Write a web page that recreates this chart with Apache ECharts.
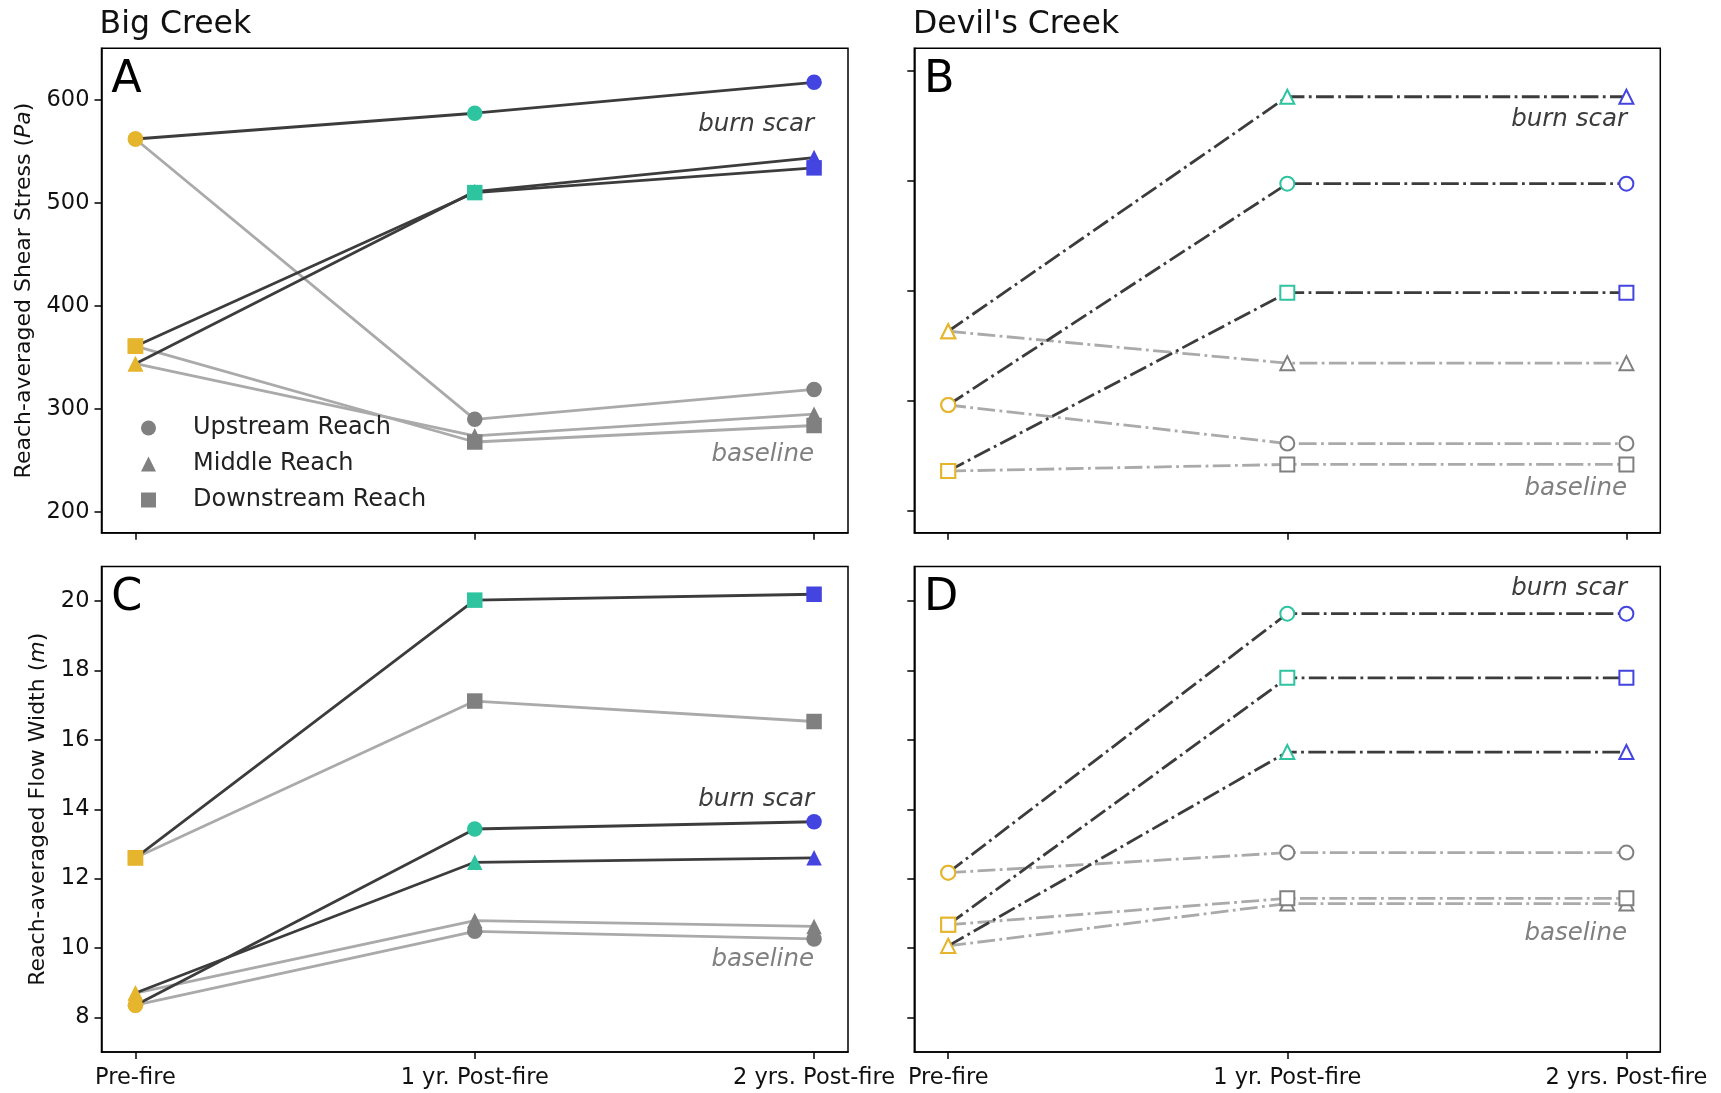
<!DOCTYPE html>
<html>
<head>
<meta charset="utf-8">
<script src="https://cdn.jsdelivr.net/npm/echarts@6/dist/echarts.min.js"></script>
<style>
  html, body { margin: 0; padding: 0; background: #fff; }
  #chart { width: 1721px; height: 1093px; }
</style>
</head>
<body>
<div id="chart"></div>
<script>
// ---------------- DATA ----------------
const categories = ['Pre-fire', '1 yr. Post-fire', '2 yrs. Post-fire'];
const shearTicks = [200, 300, 400, 500, 600];
const widthTicks = [8, 10, 12, 14, 16, 18, 20];
const reachNames = ['Upstream Reach', 'Middle Reach', 'Downstream Reach'];

// Big Creek: reach-averaged shear stress (Pa)
const bigShearBurnUp   = [562, 587, 617];
const bigShearBurnMid  = [344, 511, 544];
const bigShearBurnDown = [361, 510, 534];
const bigShearBaseUp   = [562, 290, 319];
const bigShearBaseMid  = [344, 274, 295];
const bigShearBaseDown = [361, 268, 284];

// Devil's Creek: reach-averaged shear stress (Pa)
const devShearBurnUp   = [296, 497, 497];
const devShearBurnMid  = [363, 576, 576];
const devShearBurnDown = [236, 398, 398];
const devShearBaseUp   = [296, 261, 261];
const devShearBaseMid  = [363, 334, 334];
const devShearBaseDown = [236, 242, 242];

// Big Creek: reach-averaged flow width (m)
const bigWidthBurnUp   = [8.35, 13.43, 13.64];
const bigWidthBurnMid  = [8.70, 12.47, 12.60];
const bigWidthBurnDown = [12.60, 20.03, 20.20];
const bigWidthBaseUp   = [8.35, 10.48, 10.26];
const bigWidthBaseMid  = [8.70, 10.79, 10.62];
const bigWidthBaseDown = [12.60, 17.12, 16.53];

// Devil's Creek: reach-averaged flow width (m)
const devWidthBurnUp   = [12.17, 19.64, 19.64];
const devWidthBurnMid  = [10.06, 15.65, 15.65];
const devWidthBurnDown = [10.67, 17.79, 17.79];
const devWidthBaseUp   = [12.17, 12.75, 12.75];
const devWidthBaseMid  = [10.06, 11.28, 11.28];
const devWidthBaseDown = [10.67, 11.43, 11.43];

// ---------------- STYLE ----------------
const FONT = '"DejaVu Sans", "Noto Sans", sans-serif';
const YELLOW = '#E6B52E', TEAL = '#2EC4A0', BLUE = '#4444E0', GRAYM = '#808080';
const DARK = '#3c3c3c', LIGHT = '#AAAAAA';
const burnColors = [YELLOW, TEAL, BLUE];
const baseColors = [YELLOW, GRAYM, GRAYM];
const DASHDOT = [17.8, 4.4, 2.8, 4.4];
const TICKFONT = 22.5;

const grids = [
  { left: 101.5, top: 48.3, width: 746.5, height: 484.4 },
  { left: 914.3, top: 48.3, width: 746,   height: 484.4 },
  { left: 101.5, top: 566.5, width: 746.5, height: 485.5 },
  { left: 914.3, top: 566.5, width: 746,   height: 485.5 }
].map(g => Object.assign({ show: true, borderColor: '#000', borderWidth: 1.5, containLabel: false, backgroundColor: 'transparent' }, g));

function xAxisFor(idx, showLabels) {
  return {
    type: 'value', gridIndex: idx, min: -0.1, max: 2.1,
    splitLine: { show: false },
    axisLine: { show: true, onZero: false, lineStyle: { color: '#000', width: 1.5 } },
    axisTick: { show: true, customValues: [0, 1, 2], length: 7, lineStyle: { color: '#000', width: 1.5 } },
    axisLabel: {
      show: showLabels, customValues: [0, 1, 2], margin: 15,
      formatter: v => categories[Math.round(v)],
      fontFamily: FONT, fontSize: TICKFONT, color: '#111'
    }
  };
}
function yAxisFor(idx, min, max, ticks, showLabels, name, nameGap) {
  const ax = {
    type: 'value', gridIndex: idx, min: min, max: max,
    splitLine: { show: false },
    axisLine: { show: true, onZero: false, lineStyle: { color: '#000', width: 1.5 } },
    axisTick: { show: true, customValues: ticks, length: 7, lineStyle: { color: '#000', width: 1.5 } },
    axisLabel: { show: showLabels, customValues: ticks, margin: 12, fontFamily: FONT, fontSize: TICKFONT, color: '#111' }
  };
  if (name) {
    ax.name = name;
    ax.nameLocation = 'middle';
    ax.nameRotate = 90;
    ax.nameGap = nameGap;
    ax.nameTextStyle = {
      fontFamily: FONT, fontSize: 22, color: '#111',
      rich: { i: { fontFamily: FONT, fontSize: 22, fontStyle: 'italic', color: '#111' } }
    };
  }
  return ax;
}

const shapeNames = { tri: ['triangle', 'emptyTriangle'], cir: ['circle', 'emptyCircle'], sq: ['rect', 'emptyRect'] };

function mkSeries(gi, values, shape, hollow, burn) {
  const colors = burn ? burnColors : baseColors;
  return {
    type: 'line', xAxisIndex: gi, yAxisIndex: gi,
    symbol: shapeNames[shape][hollow ? 1 : 0],
    symbolSize: hollow ? 14 : 15.5,
    showSymbol: true, animation: false, silent: true,
    lineStyle: { color: burn ? DARK : LIGHT, width: 2.8, type: hollow ? DASHDOT : 'solid', cap: 'butt' },
    itemStyle: { borderWidth: hollow ? 1.8 : 0 },
    data: values.map((v, i) => ({
      value: [i, v],
      itemStyle: hollow
        ? { color: colors[i], borderColor: colors[i], borderWidth: 1.8 }
        : { color: colors[i], borderWidth: 0 }
    })),
    z: burn ? 3 : 2
  };
}

function panelSeries(gi, hollow, d) {
  // baseline first (under), burn scar on top; middle, upstream, downstream
  return [
    mkSeries(gi, d.baseMid, 'tri', hollow, false),
    mkSeries(gi, d.baseUp, 'cir', hollow, false),
    mkSeries(gi, d.baseDown, 'sq', hollow, false),
    mkSeries(gi, d.burnMid, 'tri', hollow, true),
    mkSeries(gi, d.burnUp, 'cir', hollow, true),
    mkSeries(gi, d.burnDown, 'sq', hollow, true)
  ];
}

let series = [];
series = series.concat(panelSeries(0, false, {
  baseUp: bigShearBaseUp, baseMid: bigShearBaseMid, baseDown: bigShearBaseDown,
  burnUp: bigShearBurnUp, burnMid: bigShearBurnMid, burnDown: bigShearBurnDown }));
series = series.concat(panelSeries(1, true, {
  baseUp: devShearBaseUp, baseMid: devShearBaseMid, baseDown: devShearBaseDown,
  burnUp: devShearBurnUp, burnMid: devShearBurnMid, burnDown: devShearBurnDown }));
series = series.concat(panelSeries(2, false, {
  baseUp: bigWidthBaseUp, baseMid: bigWidthBaseMid, baseDown: bigWidthBaseDown,
  burnUp: bigWidthBurnUp, burnMid: bigWidthBurnMid, burnDown: bigWidthBurnDown }));
series = series.concat(panelSeries(3, true, {
  baseUp: devWidthBaseUp, baseMid: devWidthBaseMid, baseDown: devWidthBaseDown,
  burnUp: devWidthBurnUp, burnMid: devWidthBurnMid, burnDown: devWidthBurnDown }));

// legend-only series (reach marker shapes)
const legendIcons = ['circle', 'triangle', 'rect'];
reachNames.forEach((n, k) => {
  series.push({ type: 'line', name: n, xAxisIndex: 0, yAxisIndex: 0, data: [], symbol: legendIcons[k],
    itemStyle: { color: GRAYM }, lineStyle: { width: 0 } });
});

function txt(x, y, text, font, fill, align, valign) {
  return { type: 'text', x: x, y: y, silent: true, z: 100,
    style: { text: text, font: font, fill: fill, align: align || 'left', verticalAlign: valign || 'middle' } };
}

const NOTE = 'italic 24.5px ' + FONT;
const graphics = [
  txt(99.6, 25, 'Big Creek', '31.5px ' + FONT, '#111'),
  txt(913, 25, "Devil's Creek", '31.5px ' + FONT, '#111'),
  txt(111.3, 80, 'A', '44.5px ' + FONT, '#000'),
  txt(924, 80, 'B', '44.5px ' + FONT, '#000'),
  txt(111.3, 598.5, 'C', '44.5px ' + FONT, '#000'),
  txt(924, 598.5, 'D', '44.5px ' + FONT, '#000'),
  txt(814, 125, 'burn scar', NOTE, DARK, 'right'),
  txt(814, 455, 'baseline', NOTE, GRAYM, 'right'),
  txt(1627, 119.5, 'burn scar', NOTE, DARK, 'right'),
  txt(1627, 488.5, 'baseline', NOTE, GRAYM, 'right'),
  txt(814, 800, 'burn scar', NOTE, DARK, 'right'),
  txt(814, 959.5, 'baseline', NOTE, GRAYM, 'right'),
  txt(1627, 589, 'burn scar', NOTE, DARK, 'right'),
  txt(1627, 933.5, 'baseline', NOTE, GRAYM, 'right')
];

const option = {
  backgroundColor: '#fff',
  animation: false,
  grid: grids,
  xAxis: [xAxisFor(0, false), xAxisFor(1, false), xAxisFor(2, true), xAxisFor(3, true)],
  yAxis: [
    yAxisFor(0, 180, 650, shearTicks, true, 'Reach-averaged Shear Stress ({i|Pa})', 66),
    yAxisFor(1, 180, 620, shearTicks, false),
    yAxisFor(2, 7, 21, widthTicks, true, 'Reach-averaged Flow Width ({i|m})', 52),
    yAxisFor(3, 7, 21, widthTicks, false)
  ],
  legend: {
    show: true, orient: 'vertical', left: 141, top: 416, padding: 0,
    itemGap: 12, itemWidth: 15, itemHeight: 15, selectedMode: false,
    textStyle: { fontFamily: FONT, fontSize: 24, color: '#222', lineHeight: 24, padding: [0, 0, 0, 32] },
    data: reachNames.map((n, k) => ({ name: n, icon: legendIcons[k], itemStyle: { color: GRAYM } }))
  },
  graphic: graphics,
  series: series
};

const chart = echarts.init(document.getElementById('chart'), null, { renderer: 'canvas' });
chart.setOption(option);
</script>
</body>
</html>
